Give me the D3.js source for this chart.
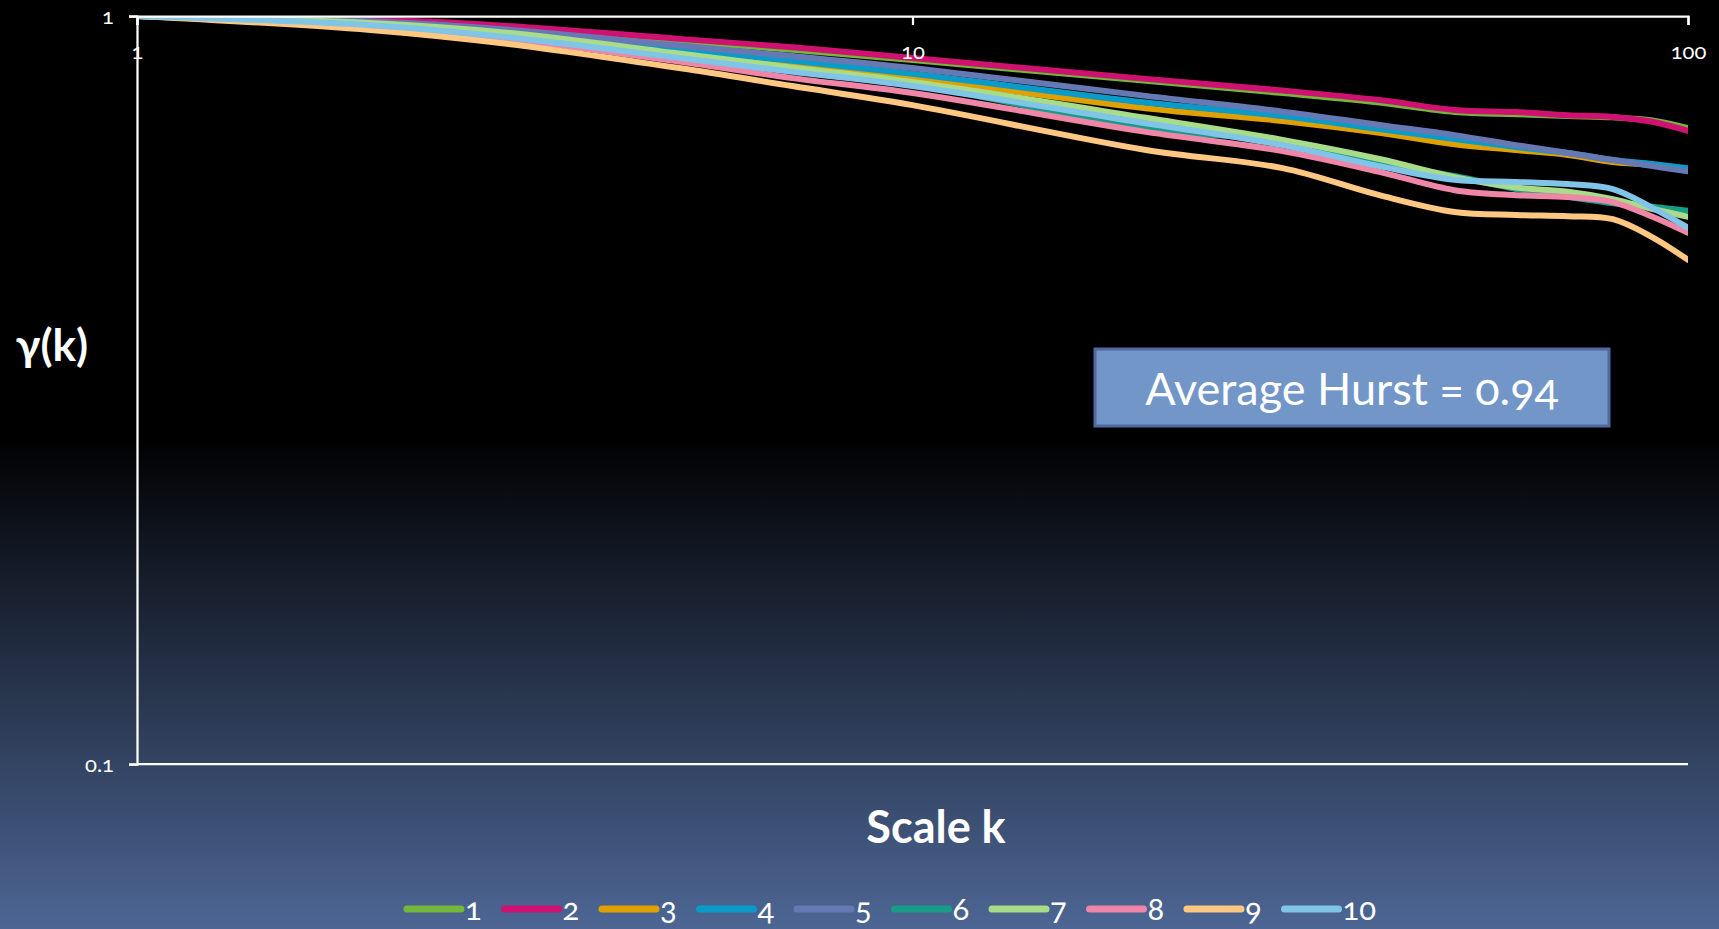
<!DOCTYPE html>
<html>
<head>
<meta charset="utf-8">
<script src="https://cdn.jsdelivr.net/npm/d3@7"></script>
<style>
  html, body { margin: 0; padding: 0; background: #000; }
  svg { display: block; }
  text { font-family: Lato, "Open Sans", sans-serif; fill: #fff; font-variant-numeric: oldstyle-nums; }
  .axis path, .axis line { stroke: #fff; stroke-width: 2.25; }
  .axis text { font-size: 22px; }
</style>
</head>
<body>
<svg id="chart"></svg>
<script>
// scale k values read along the x axis
const scales = [1, 2, 3, 5, 7, 10, 20, 30, 40, 50, 60, 70, 80, 90, 100];

// gamma(k) for each of the 10 series
const s1  = [1, 0.987, 0.967, 0.926, 0.901, 0.873, 0.819, 0.789, 0.766, 0.744, 0.739, 0.735, 0.732, 0.725, 0.708];
const s2  = [1, 0.989, 0.970, 0.932, 0.908, 0.879, 0.824, 0.795, 0.772, 0.749, 0.744, 0.737, 0.733, 0.722, 0.702];
const s3  = [1, 0.980, 0.952, 0.897, 0.861, 0.826, 0.753, 0.724, 0.698, 0.674, 0.662, 0.652, 0.638, 0.632, 0.624];
const s4  = [1, 0.982, 0.956, 0.903, 0.871, 0.837, 0.766, 0.735, 0.706, 0.685, 0.668, 0.656, 0.642, 0.634, 0.626];
const s5  = [1, 0.984, 0.959, 0.913, 0.884, 0.852, 0.782, 0.745, 0.715, 0.693, 0.672, 0.656, 0.642, 0.630, 0.620];
const s6  = [1, 0.976, 0.946, 0.887, 0.849, 0.811, 0.708, 0.679, 0.636, 0.611, 0.587, 0.573, 0.562, 0.556, 0.549];
const s7  = [1, 0.979, 0.950, 0.891, 0.853, 0.816, 0.731, 0.683, 0.644, 0.609, 0.590, 0.582, 0.569, 0.552, 0.539];
const s8  = [1, 0.967, 0.932, 0.869, 0.826, 0.789, 0.700, 0.660, 0.619, 0.585, 0.576, 0.573, 0.564, 0.539, 0.513];
const s9  = [1, 0.958, 0.918, 0.852, 0.806, 0.760, 0.662, 0.626, 0.576, 0.547, 0.542, 0.540, 0.535, 0.506, 0.472];
const s10 = [1, 0.972, 0.937, 0.879, 0.842, 0.806, 0.719, 0.672, 0.630, 0.604, 0.600, 0.596, 0.587, 0.554, 0.521];

const seriesNames = ["1", "2", "3", "4", "5", "6", "7", "8", "9", "10"];
const seriesColors = ["#72b83a", "#cf1271", "#e0a100", "#0a9bc8", "#6679b4",
                      "#179c88", "#a8dc88", "#ef86a8", "#ffc882", "#80c4e8"];
const xTicks = [1, 10, 100];
const yTicks = [0.1, 1];
const noteText = "Average Hurst = 0.94";

const allSeries = [s1, s2, s3, s4, s5, s6, s7, s8, s9, s10].map(function(v, i) {
  return { name: seriesNames[i], color: seriesColors[i], values: v };
});

const W = 1719, H = 929;
const plot = { left: 137, right: 1688, top: 16, bottom: 764 };

const svg = d3.select("#chart").attr("width", W).attr("height", H);

// background gradient, black to slate blue
const defs = svg.append("defs");
const grad = defs.append("linearGradient")
  .attr("id", "bg").attr("x1", 0).attr("y1", 0).attr("x2", 0).attr("y2", 1);
grad.append("stop").attr("offset", "0").attr("stop-color", "#000");
grad.append("stop").attr("offset", "0.47").attr("stop-color", "#000");
grad.append("stop").attr("offset", "1").attr("stop-color", "#4d6694");
svg.append("rect").attr("width", W).attr("height", H).attr("fill", "url(#bg)");

defs.append("clipPath").attr("id", "plotclip")
  .append("rect")
  .attr("x", plot.left).attr("y", plot.top)
  .attr("width", plot.right - plot.left).attr("height", plot.bottom - plot.top);

const x = d3.scaleLog().domain([1, 100]).range([plot.left, plot.right]);
const y = d3.scaleLog().domain([0.1, 1]).range([plot.bottom, plot.top]);

// series lines
const line = d3.line()
  .x(function(d, i) { return x(scales[i]); })
  .y(function(d) { return y(d); })
  .curve(d3.curveCatmullRom.alpha(0.5));

svg.append("g").attr("clip-path", "url(#plotclip)")
  .selectAll("path")
  .data(allSeries)
  .enter().append("path")
  .attr("d", function(d) { return line(d.values); })
  .attr("fill", "none")
  .attr("stroke", function(d) { return d.color; })
  .attr("stroke-width", 6)
  .attr("stroke-linecap", "round")
  .attr("stroke-linejoin", "round");

// axes
svg.append("line")
  .attr("x1", x(1)).attr("x2", x(100))
  .attr("y1", y(0.1)).attr("y2", y(0.1))
  .attr("stroke", "#fff").attr("stroke-width", 2.25);

svg.append("g").attr("class", "axis")
  .attr("transform", `translate(${x(1)},0)`)
  .call(d3.axisLeft(y).tickValues(yTicks).tickFormat(function(d) { return String(d); })
    .tickSize(8).tickPadding(15));

svg.append("g").attr("class", "axis")
  .attr("transform", `translate(0,${y(1)})`)
  .call(d3.axisBottom(x).tickValues(xTicks).tickFormat(function(d) { return String(d); })
    .tickSize(9).tickPadding(18));

svg.selectAll(".axis text").attr("fill", "#fff");

// axis titles
svg.append("text")
  .attr("x", 52).attr("y", 361)
  .attr("text-anchor", "middle")
  .style("font-size", "44px").style("font-weight", "bold")
  .text("γ(k)");

svg.append("text")
  .attr("x", 936).attr("y", 843)
  .attr("text-anchor", "middle")
  .style("font-size", "45px").style("font-weight", "bold")
  .text("Scale k");

// annotation box
const note = svg.append("g").attr("transform", "translate(1095,349)");
note.append("rect")
  .attr("width", 514).attr("height", 77)
  .attr("fill", "#7396c9").attr("stroke", "#53689c").attr("stroke-width", 3);
note.append("text")
  .attr("x", 257).attr("y", 56)
  .attr("text-anchor", "middle")
  .style("font-size", "45px")
  .text(noteText);

// legend
const legend = svg.append("g").attr("transform", "translate(407,909)");
const item = legend.selectAll("g")
  .data(allSeries)
  .enter().append("g")
  .attr("transform", function(d, i) { return `translate(${i * 97.5},0)`; });
item.append("line")
  .attr("x1", 0).attr("x2", 54)
  .attr("stroke", function(d) { return d.color; })
  .attr("stroke-width", 7).attr("stroke-linecap", "round");
item.append("text")
  .attr("x", 58).attr("y", 11)
  .style("font-size", "31px")
  .text(function(d) { return d.name; });
</script>
</body>
</html>
